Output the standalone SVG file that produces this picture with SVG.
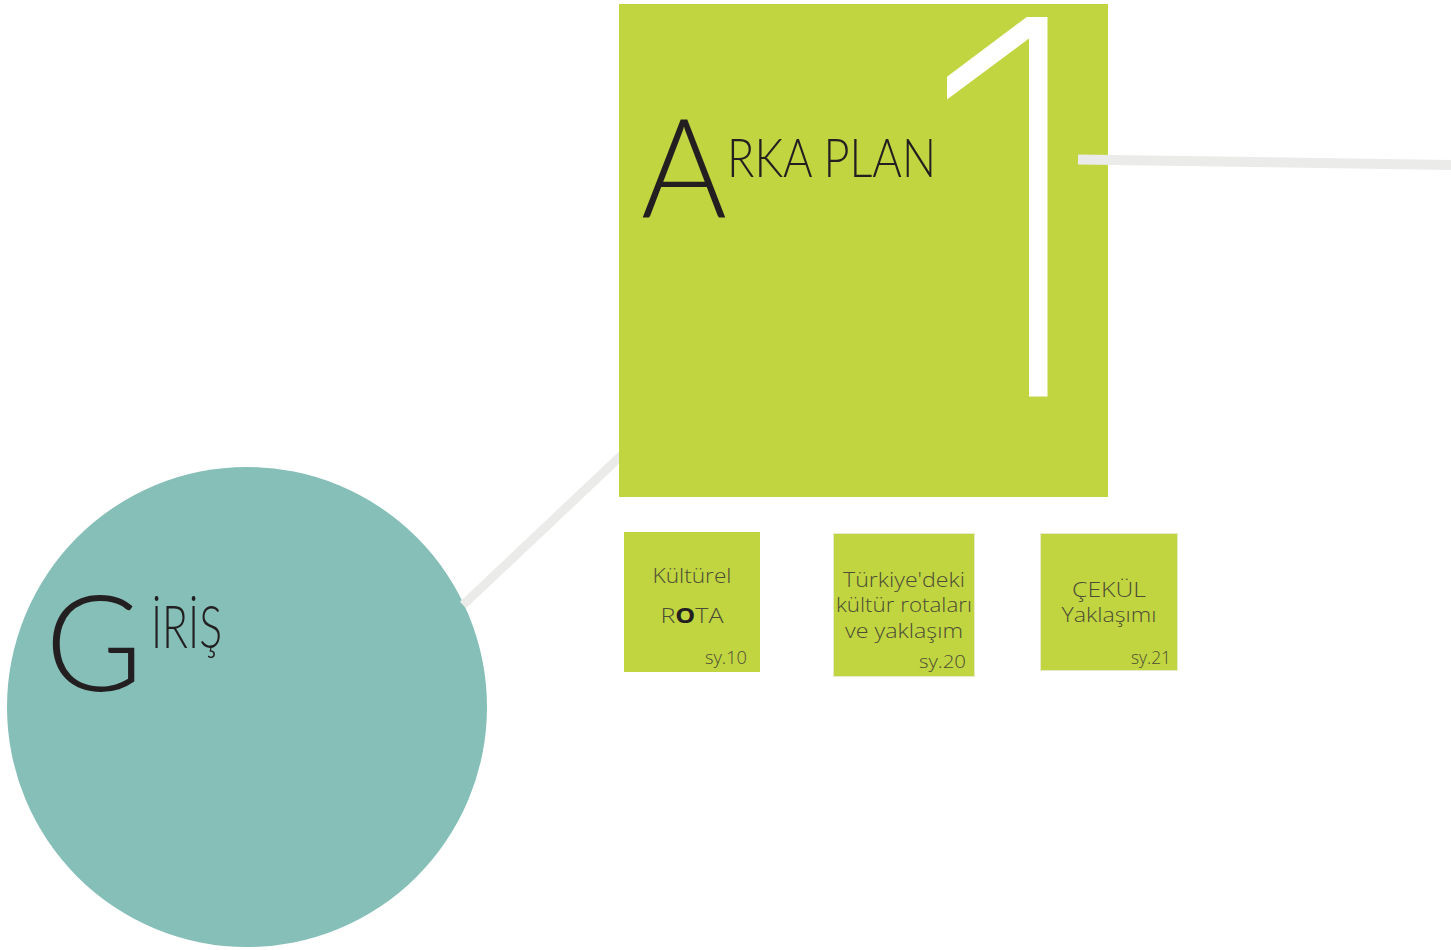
<svg xmlns="http://www.w3.org/2000/svg" width="1451" height="950" viewBox="0 0 1451 950">
<defs>
<clipPath id="leftOfBox"><rect x="0" y="0" width="619" height="950"/></clipPath>
</defs>
<style>
.conn{stroke:#ebebe9;fill:none}
.green{fill:#c1d540}
.small{font-family:"Open Sans","Lato","Liberation Sans",sans-serif;font-weight:300;font-size:21px;fill:#4b4d36;text-anchor:middle}
.page{font-family:"Open Sans","Lato","Liberation Sans",sans-serif;font-weight:300;font-size:18px;fill:#4b4d36;text-anchor:end}
.title{font-family:"Lato","Liberation Sans",sans-serif;font-weight:300;fill:#231f20}
</style>
<rect width="1451" height="950" fill="#ffffff"/>
<g id="giris">
<circle cx="247" cy="707" r="240" fill="#85bfb8"/>
<text class="title" x="45" y="691" font-size="134" textLength="98" lengthAdjust="spacingAndGlyphs">G</text>
<text class="title" x="151" y="648" font-size="60" textLength="71" lengthAdjust="spacingAndGlyphs">İRİŞ</text>
</g>
<g id="arka-plan">
<rect class="green" x="619" y="4" width="489" height="493"/>
<text x="1008" y="393" font-family="Inter,'Liberation Sans',sans-serif" font-weight="100" font-size="512" fill="#ffffff" stroke="#ffffff" stroke-width="7" text-anchor="middle">1</text>
<text class="title" x="641" y="217" font-size="138" textLength="86" lengthAdjust="spacingAndGlyphs">A</text>
<text class="title" x="727" y="177" font-size="54" textLength="209" lengthAdjust="spacingAndGlyphs">RKA PLAN</text>
</g>
<g id="kulturel-rota">
<rect class="green" x="624" y="532" width="136" height="140"/>
<text class="small" x="692" y="583" textLength="79" lengthAdjust="spacingAndGlyphs">Kültürel</text>
<text class="small" x="692" y="623" textLength="63" lengthAdjust="spacingAndGlyphs">R<tspan font-weight="700" fill="#231f20">O</tspan>TA</text>
<text class="page" x="747" y="664" textLength="42" lengthAdjust="spacingAndGlyphs">sy.10</text>
</g>
<g id="turkiye-rotalari">
<rect class="green" x="833.5" y="533.5" width="141" height="143" stroke="#e6ebc8" stroke-width="1"/>
<text class="small" x="904" y="587" textLength="122" lengthAdjust="spacingAndGlyphs">Türkiye'deki</text>
<text class="small" x="904" y="612" textLength="136" lengthAdjust="spacingAndGlyphs">kültür rotaları</text>
<text class="small" x="904" y="638" textLength="118" lengthAdjust="spacingAndGlyphs">ve yaklaşım</text>
<text class="page" x="966" y="668" textLength="47" lengthAdjust="spacingAndGlyphs">sy.20</text>
</g>
<g id="cekul">
<rect class="green" x="1040.5" y="533.5" width="137" height="137" stroke="#e6ebc8" stroke-width="1"/>
<text class="small" x="1109" y="597" textLength="74" lengthAdjust="spacingAndGlyphs">ÇEKÜL</text>
<text class="small" x="1109" y="622" textLength="95" lengthAdjust="spacingAndGlyphs">Yaklaşımı</text>
<text class="page" x="1171" y="664" textLength="40" lengthAdjust="spacingAndGlyphs">sy.21</text>
</g>
<g id="connectors">
<line class="conn" x1="625" y1="452" x2="463" y2="605" stroke-width="9" clip-path="url(#leftOfBox)"/>
<line class="conn" x1="1078" y1="159.5" x2="1451" y2="165" stroke-width="10"/>
</g>
</svg>
